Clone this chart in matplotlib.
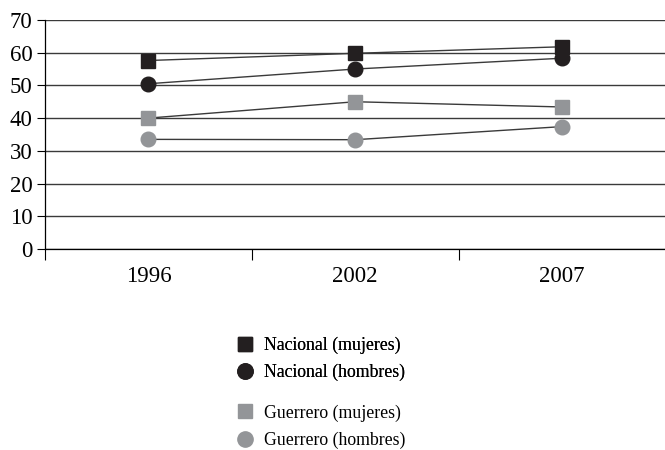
import matplotlib
matplotlib.use('Agg')
import matplotlib.pyplot as plt
from matplotlib.lines import Line2D

years = ['1996', '2002', '2007']
nac_mujeres = [57.6, 59.8, 61.8]
nac_hombres = [50.5, 55.0, 58.3]
gro_mujeres = [40.0, 45.0, 43.4]
gro_hombres = [33.5, 33.4, 37.4]

labels = ['Nacional (mujeres)', 'Nacional (hombres)', 'Guerrero (mujeres)', 'Guerrero (hombres)']

black = '#231f20'
gray = '#939598'

plt.rcParams['font.family'] = ['Liberation Serif', 'DejaVu Serif']

fig = plt.figure(figsize=(6.65, 4.5), dpi=100)
ax = fig.add_axes([0.0677, 0.4467, 0.933, 0.509])

x = range(len(years))
series = [
    (nac_mujeres, 's', black),
    (nac_hombres, 'o', black),
    (gro_mujeres, 's', gray),
    (gro_hombres, 'o', gray),
]
for vals, mk, col in series:
    ax.plot(x, vals, color='#3a3a3a', lw=1.0, zorder=3)
    ax.plot(x, vals, ls='none', marker=mk, ms=10.5 if mk == 'o' else 10,
            color=col, mec=col, zorder=4)

ax.set_ylim(0, 70)
ax.set_yticks(range(0, 71, 10))
ax.set_xlim(-0.5, 2.5)
ax.set_xticks(list(x))
ax.set_xticklabels(years)
ax.set_xticks([-0.5, 0.5, 1.5], minor=True)
ax.tick_params(axis='x', which='major', length=0, pad=12, labelsize=16.5)
ax.tick_params(axis='x', which='minor', length=8, width=0.8, direction='out')
ax.tick_params(axis='y', length=6, width=0.8, labelsize=16.5, pad=3)
ax.yaxis.grid(True, color='#3a3a3a', lw=1.0)
ax.set_axisbelow(True)
for s in ['top', 'right']:
    ax.spines[s].set_visible(False)
ax.spines['left'].set_linewidth(0.9)
ax.spines['bottom'].set_linewidth(0.9)

handles = [Line2D([], [], ls='none', marker=mk, ms=10 if mk == 's' else 11,
                  color=col, mec=col) for _, mk, col in series]

leg1 = fig.legend(handles[:2], labels[:2], loc='upper left', bbox_to_anchor=(0.345, 0.268),
                  frameon=False, fontsize=12.8, handletextpad=0.55, handlelength=1.0,
                  labelspacing=0.55, borderaxespad=0)
fig.add_artist(leg1)
fig.legend(handles[2:], labels[2:], loc='upper left', bbox_to_anchor=(0.345, 0.117),
           frameon=False, fontsize=12.8, handletextpad=0.55, handlelength=1.0,
           labelspacing=0.55, borderaxespad=0)

fig.savefig('out.png', dpi=100)
